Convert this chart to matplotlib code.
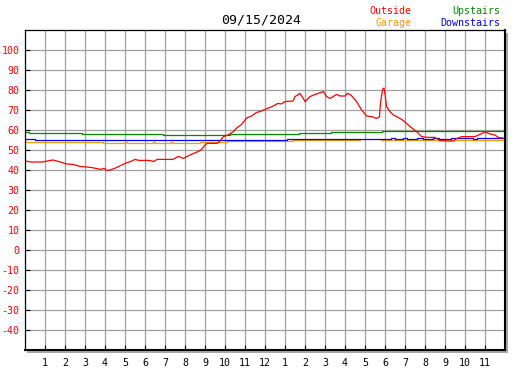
import matplotlib
matplotlib.use("Agg")
from matplotlib import pyplot as plt
from matplotlib.patches import Rectangle
import numpy as np

# Outside temperature (hour of day, degrees)
out_hours = [0.0, 0.3, 0.9, 1.0, 1.4, 1.7, 2.1, 2.4, 2.75, 3.3, 3.8, 3.95, 4.1, 4.2,
             4.6, 5.0, 5.3, 5.5, 5.7, 6.2, 6.45, 6.6, 7.4, 7.67, 7.92, 8.25, 8.67,
             8.83, 9.0, 9.1, 9.6, 9.75, 9.92, 10.1, 10.42, 10.58, 10.83, 11.08,
             11.33, 11.58, 11.75, 12.0, 12.35, 12.65, 12.8, 13.0, 13.4, 13.5, 13.75,
             13.9, 14.0, 14.25, 14.5, 14.92, 15.08, 15.25, 15.58, 15.75, 16.0, 16.12,
             16.3, 16.58, 16.83, 17.08, 17.33, 17.58, 17.72, 17.78, 17.88, 17.95,
             18.0, 18.08, 18.25, 18.42, 18.75, 18.92, 19.25, 19.58, 19.83, 20.15,
             20.5, 20.75, 21.15, 21.4, 21.58, 21.83, 22.5, 22.75, 23.0, 23.25, 23.5,
             23.65, 24.0]
out_temp = [44.5, 44.0, 44.0, 44.3, 45.0, 44.2, 43.0, 42.8, 41.8, 41.3, 40.3, 40.8, 39.8, 39.8,
            41.3, 43.3, 44.3, 45.3, 44.8, 44.8, 44.3, 45.3, 45.3, 46.8, 45.8, 47.5, 49.3,
            50.3, 52.5, 53.3, 53.3, 54.5, 56.7, 57.3, 59.2, 61.0, 62.8, 66.0,
            67.0, 68.8, 69.2, 70.3, 71.7, 73.3, 73.0, 74.2, 74.5, 76.7, 78.3,
            76.0, 74.2, 76.7, 77.8, 79.2, 76.7, 75.8, 77.8, 77.0, 77.0, 78.3,
            77.5, 74.2, 70.0, 67.0, 66.7, 65.8, 66.5, 74.0, 80.3, 81.0,
            78.0, 71.7, 69.2, 67.5, 65.8, 64.7, 61.7, 59.2, 56.7, 56.3,
            56.3, 54.7, 54.5, 54.5, 55.7, 56.7, 56.7, 57.8, 59.0, 58.0, 57.5,
            56.3, 55.8]

# Upstairs (step changes)
up_hours = [0.0, 0.2, 2.83, 6.92, 10.25, 13.7, 15.3, 17.83, 24.0]
up_temp = [59.0, 58.3, 57.8, 57.3, 57.8, 58.3, 58.8, 59.5, 59.5]

# Downstairs
down_hours = [0.0, 0.5, 13.1, 18.3, 18.5, 18.9, 19.1, 19.6, 19.9, 20.4, 20.7, 21.3, 22.4, 22.6, 24.0]
down_temp = [55.3, 54.8, 55.3, 55.8, 55.3, 55.8, 55.3, 55.8, 55.3, 55.8, 55.3, 55.8, 55.3, 55.8, 55.8]

# Garage (nan = no reading)
gar_hours = [0.0, 3.92, 5.0, 5.1, 6.4, 6.5, 7.3, 7.4, 8.75, 10.08, 13.4, 16.75, 17.7, 17.8, 24.0]
gar_temp = [53.8, 53.3, 53.8, 53.3, 53.8, 53.3, 53.8, 53.3, 53.8, 54.3, 54.8, np.nan, np.nan, 54.8, 54.8]

hour_labels = ['1', '2', '3', '4', '5', '6', '7', '8', '9', '10', '11', '12',
               '1', '2', '3', '4', '5', '6', '7', '8', '9', '10', '11']
title = "09/15/2024"

W, H = 527, 370
fig = plt.figure(figsize=(W / 100, H / 100), dpi=100)
L, R, T, B = 25, 505, 30, 350
ax = fig.add_axes([L / W, 1 - B / H, (R - L) / W, (B - T) / H])

# drop shadow behind the plot box
fig.patches.append(Rectangle(((L + 2) / W, 1 - (B + 3) / H), (R - L + 1) / W, (B - T) / H,
                             transform=fig.transFigure, facecolor='#a8a8a8',
                             edgecolor='none', zorder=-1))

mono = 'DejaVu Sans Mono'
ax.step(gar_hours, gar_temp, where='post', color='#ff9900', lw=0.9)
ax.step(up_hours, up_temp, where='post', color='#008800', lw=0.9)
ax.step(down_hours, down_temp, where='post', color='#0000ff', lw=0.9)
ax.plot(out_hours, out_temp, color='#ff0000', lw=0.9)

ax.set_xlim(0, 24)
ax.set_ylim(-50, 110)
ax.set_xticks(np.arange(1, 24))
ax.set_xticklabels(hour_labels, fontfamily=mono, fontsize=7.2)
ax.set_yticks(np.arange(-40, 101, 10))
ax.set_yticklabels([str(v) for v in range(-40, 101, 10)], fontfamily=mono,
                   fontsize=7.2, color='red')
ax.tick_params(direction='in', length=3.5, width=0.8, pad=4)
ax.tick_params(axis='x', pad=6)
ax.grid(color='#a0a0a0', lw=0.9)
ax.set_axisbelow(True)
for side in ['left', 'top']:
    ax.spines[side].set_linewidth(0.9)
for side in ['right', 'bottom']:
    ax.spines[side].set_linewidth(1.5)

fig.text(261 / W, 1 - 20 / H, title, ha='center', va='center', fontfamily=mono, fontsize=9.5)
fig.text(411 / W, 1 - 11 / H, "Outside", ha='right', va='center', fontfamily=mono, fontsize=7.2, color='red')
fig.text(411 / W, 1 - 23 / H, "Garage", ha='right', va='center', fontfamily=mono, fontsize=7.2, color='#ff9900')
fig.text(500 / W, 1 - 11 / H, "Upstairs", ha='right', va='center', fontfamily=mono, fontsize=7.2, color='#008800')
fig.text(500 / W, 1 - 23 / H, "Downstairs", ha='right', va='center', fontfamily=mono, fontsize=7.2, color='#0000ff')

fig.savefig('out.png', dpi=100)
